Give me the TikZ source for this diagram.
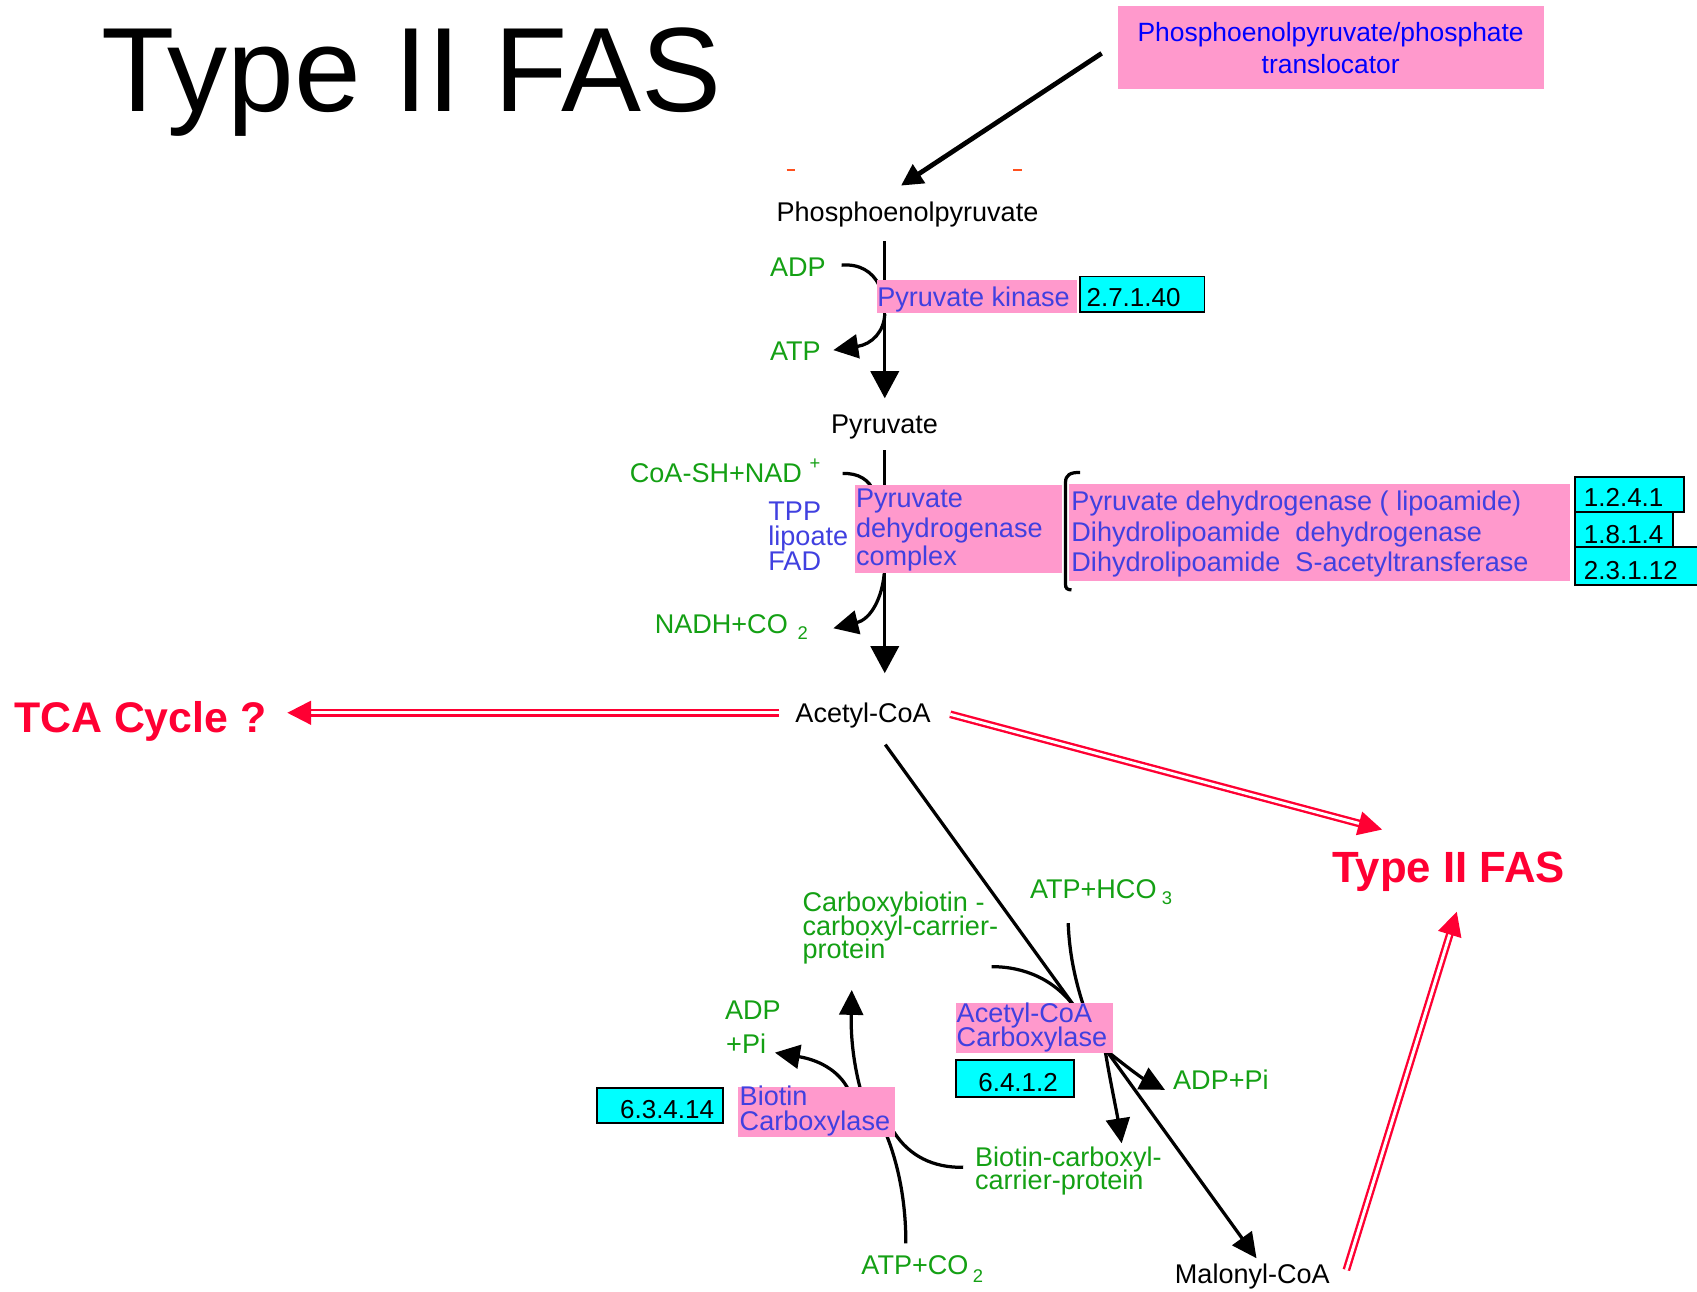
\documentclass[tikz,border=0pt]{standalone}
\usepackage{fontspec}
\setmainfont{Liberation Sans}
\usetikzlibrary{arrows.meta,fit}
\definecolor{keggpink}{RGB}{255,153,204}
\definecolor{keggcyan}{RGB}{0,255,255}
\definecolor{kegggreen}{RGB}{20,160,20}
\definecolor{keggblue}{RGB}{64,64,224}
\definecolor{alertred}{RGB}{255,0,51}
\definecolor{tickorange}{RGB}{255,80,30}
\newcommand\keggfont{\fontsize{12.5}{15}\selectfont}
\newcommand\ecfont{\fontsize{12}{14}\selectfont}
\newcommand\subfont{\fontsize{8.5}{9}\selectfont}
\pgfdeclarelayer{paper}
\pgfdeclarelayer{links}
\pgfsetlayers{paper,links,main}
\begin{document}
\begin{tikzpicture}[x=0.5pt,y=-0.5pt,
  lbl/.style={inner sep=0pt, outer sep=0pt, anchor=base west, font=\keggfont},
  metab/.style={lbl, text=black},
  cofac/.style={lbl, text=kegggreen},
  enzname/.style={lbl, text=keggblue},
  ecnum/.style={lbl, font=\ecfont, text=black},
  redlbl/.style={lbl, font=\fontsize{19.8}{22}\selectfont\bfseries, text=alertred},
  pinkbox/.style={rectangle, fill=keggpink, draw=none, inner sep=0pt},
  ecbox/.style={rectangle, fill=keggcyan, draw=black, line width=0.8pt, inner sep=0pt},
  pathway/.style={draw=black, line width=1.5pt},
  mainhead/.style={pathway, -{Triangle[length=12.5pt,width=13pt]}},
  sidehead/.style={pathway, -{Triangle[length=11.5pt,width=11pt]}},
  transport/.style={draw=black, line width=2.2pt, -{Triangle[length=10pt,width=10pt]}},
  redlink/.style={draw=alertred, line width=1.1pt, double=white, double distance=1.35pt,
    -{Triangle[length=11pt,width=11pt]}}
]
\begin{pgfonlayer}{paper}
  \fill[white] (0,0) rectangle (1568,1193);
\end{pgfonlayer}
\useasboundingbox (0,0) rectangle (1568,1193);

% heading
\node[inner sep=0pt, anchor=base west, font=\fontsize{55.4}{60}\selectfont] (title) at (93,103) {Type II FAS};

% translocator
\node[pinkbox, fit={(1033,5.5) (1426.5,82.5)}] (ppt) {};
\node[lbl, anchor=base, font=\fontsize{12.2}{14}\selectfont, text=blue] (pptA) at (1229.5,38.8) {Phosphoenolpyruvate/phosphate};
\node[lbl, anchor=base, font=\fontsize{12.2}{14}\selectfont, text=blue] (pptB) at (1229.5,67.5) {translocator};

% small orange ticks
\draw[tickorange, line width=0.7pt] (726.8,157) -- (734.5,157);
\draw[tickorange, line width=0.7pt] (936.3,157) -- (944,157);

% phosphoenolpyruvate -> pyruvate
\node[metab] (pep) at (717.6,205) {Phosphoenolpyruvate};
\node[cofac] (adp1) at (711.5,255.6) {ADP};
\node[cofac] (atp1) at (711.5,333.3) {ATP};
\node[pinkbox, fit={(810,258.7) (994.8,289.5)}] (pk) {};
\node[enzname] (pkL) at (810.6,283.4) {Pyruvate kinase};
\node[ecbox, fit={(998,255.5) (1113,288)}] (ec271) {};
\node[ecnum] (ec271L) at (1004,283) {2.7.1.40};
\node[metab] (pyr) at (768,400.4) {Pyruvate};

% pyruvate -> acetyl-CoA
\node[cofac] (coa) at (582,446) {CoA-SH+NAD\hspace{3.5pt}\raisebox{6pt}{\subfont +}};
\node[enzname] (tpp) at (710,481) {TPP};
\node[enzname] (lip) at (710,504) {lipoate};
\node[enzname] (fad) at (710,527) {FAD};
\node[pinkbox, fit={(790,448) (981,529)}] (pdc) {};
\node[enzname] (pdcA) at (791,469) {Pyruvate};
\node[enzname] (pdcB) at (791,496.5) {dehydrogenase};
\node[enzname] (pdcC) at (791,522.5) {complex};
\node[cofac] (nadh) at (605,585) {NADH+CO\hspace{4.5pt}\raisebox{-3pt}{\subfont 2}};

% subunits of the complex
\draw[line width=1.5pt] (998,436.5) .. controls (989,436.5) and (984.5,438.5) .. (984.5,446)
  -- (984.5,540) .. controls (984.5,543.5) and (986,545) .. (990,545);
\node[pinkbox, fit={(987.5,447.5) (1450.6,536.5)}] (pdh) {};
\node[enzname] (pdhA) at (990,471.5) {Pyruvate dehydrogenase ( lipoamide)};
\node[enzname] (pdhB) at (990,500) {Dihydrolipoamide~ dehydrogenase};
\node[enzname] (pdhC) at (990,528.5) {Dihydrolipoamide~ S-acetyltransferase};
\node[ecbox, fit={(1455.2,440.4) (1556.2,472.8)}] (ec1241) {};
\node[ecbox, fit={(1455.2,472.8) (1546,505.7)}] (ec1814) {};
\node[ecbox, fit={(1455.2,505.7) (1580,540.5)}] (ec23112) {};
\node[ecnum] (ec1241L) at (1463.5,468.2) {1.2.4.1};
\node[ecnum] (ec1814L) at (1463.5,502) {1.8.1.4};
\node[ecnum] (ec23112L) at (1463.5,535.9) {2.3.1.12};

% acetyl-CoA and its fates
\node[metab] (acoa) at (735,668) {Acetyl-CoA};
\node[redlbl] (tca) at (13,676.7) {TCA Cycle ?};
\node[redlbl, font=\fontsize{20.2}{22}\selectfont\bfseries] (fas) at (1231,815) {Type II FAS};

% acetyl-CoA carboxylase
\node[cofac] (hco) at (951.7,830) {ATP+HCO\hspace{2.5pt}\raisebox{-3pt}{\subfont 3}};
\node[cofac] (cbA) at (741.6,842.3) {Carboxybiotin -};
\node[cofac] (cbB) at (741.6,864.5) {carboxyl-carrier-};
\node[cofac] (cbC) at (741.6,886) {protein};
\node[pinkbox, fit={(883.3,927) (1028,973.2)}] (acc) {};
\node[enzname] (accA) at (884,944.5) {Acetyl-CoA};
\node[enzname] (accB) at (884,967) {Carboxylase};
\node[ecbox, fit={(883.3,979.4) (992.6,1013.9)}] (ec6412) {};
\node[ecnum] (ec6412L) at (904,1008.7) {6.4.1.2};
\node[cofac] (adpPi) at (1084,1007) {ADP+Pi};
\node[cofac] (bccpA) at (901,1078) {Biotin-carboxyl-};
\node[cofac] (bccpB) at (901,1099) {carrier-protein};
\node[metab] (mal) at (1085.6,1185.7) {Malonyl-CoA};

% biotin carboxylase
\node[pinkbox, fit={(682.2,1004) (827,1051)}] (bc) {};
\node[enzname] (bcA) at (683.5,1021.5) {Biotin};
\node[enzname] (bcB) at (683.5,1044.5) {Carboxylase};
\node[ecbox, fit={(551.9,1005) (667.7,1037.3)}] (ec63414) {};
\node[ecnum] (ec63414L) at (573,1033.3) {6.3.4.14};
\node[cofac] (adp2) at (670,942.4) {ADP};
\node[cofac] (pi2) at (671,973.2) {+Pi};
\node[cofac] (atpco) at (796,1178) {ATP+CO\hspace{2pt}\raisebox{-3.5pt}{\subfont 2}};

% connector end points
\coordinate (pptTail) at (1017.9,49.3);
\coordinate (pepHead) at (832.5,171.5);
\coordinate (pkTop) at (817.5,223);
\coordinate (pkTip) at (817.5,368);
\coordinate (adpOut) at (777.6,245);
\coordinate (pkIn) at (812,263);
\coordinate (pkOut) at (817.5,290);
\coordinate (atpTip) at (770,323.5);
\coordinate (pdcTop) at (817.5,416);
\coordinate (pdcTip) at (817.5,622);
\coordinate (coaOut) at (778.6,437.5);
\coordinate (pdcIn) at (808,455);
\coordinate (pdcOut) at (817,530);
\coordinate (nadhTip) at (770,580.5);
\coordinate (acoaW) at (720,658.6);
\coordinate (tcaTip) at (265.5,658.6);
\coordinate (acoaE) at (878,660);
\coordinate (fasTip) at (1277,766.5);
\coordinate (malE) at (1244,1173.4);
\coordinate (fasTip2) at (1346,842.4);
\coordinate (acoaS) at (818,688);
\coordinate (malTip) at (1161,1162.6);
\coordinate (hcoIn) at (987,853);
\coordinate (accTopR) at (1002,932);
\coordinate (cbIn) at (916.3,893.2);
\coordinate (accTop) at (994,932);
\coordinate (accOut1) at (1024,972);
\coordinate (adpPiTip) at (1076.4,1007);
\coordinate (accOut2) at (1021,970);
\coordinate (bccpTip) at (1036.4,1056.4);
\coordinate (bcOut1) at (785.4,1010);
\coordinate (adp2Tip) at (716,972.6);
\coordinate (bcOut2) at (796,1010);
\coordinate (cbTip) at (787,914.7);
\coordinate (atpcoIn) at (837,1148.8);
\coordinate (bcIn1) at (818,1046);
\coordinate (bccpIn) at (890,1078.6);
\coordinate (bcIn2) at (826,1046);

\begin{pgfonlayer}{links}
  % transport into the plastid
  \draw[transport] (pptTail) -- (pepHead);
  % pyruvate kinase
  \draw[mainhead] (pkTop) -- (pkTip);
  \draw[pathway] (adpOut) .. controls (794,243.5) and (806,251) .. (pkIn);
  \draw[sidehead] (pkOut) .. controls (817,306) and (806,318) .. (atpTip);
  % pyruvate dehydrogenase complex
  \draw[mainhead] (pdcTop) -- (pdcTip);
  \draw[pathway] (coaOut) .. controls (793,437) and (803,443) .. (pdcIn);
  \draw[sidehead] (pdcOut) .. controls (815,552) and (805,572) .. (nadhTip);
  % acetyl-CoA carboxylase
  \draw[sidehead] (acoaS) -- (malTip);
  \draw[pathway] (hcoIn) .. controls (988,880) and (993,905) .. (accTopR);
  \draw[pathway] (cbIn) .. controls (946,893) and (975,905) .. (accTop);
  \draw[sidehead] (accOut1) .. controls (1040,985) and (1055,996) .. (adpPiTip);
  \draw[sidehead] (accOut2) .. controls (1026,1000) and (1032,1028) .. (bccpTip);
  % biotin carboxylase
  \draw[sidehead] (bcOut1) .. controls (778,992) and (760,980) .. (adp2Tip);
  \draw[sidehead] (bcOut2) .. controls (789,985) and (786,960) .. (cbTip);
  \draw[pathway] (atpcoIn) .. controls (837,1110) and (830,1075) .. (bcIn1);
  \draw[pathway] (bccpIn) .. controls (862,1079) and (840,1068) .. (bcIn2);
\end{pgfonlayer}

% fates of acetyl-CoA and malonyl-CoA
\draw[redlink] (acoaW) -- (tcaTip);
\draw[redlink] (acoaE) -- (fasTip);
\draw[redlink] (malE) -- (fasTip2);
\end{tikzpicture}
\end{document}
